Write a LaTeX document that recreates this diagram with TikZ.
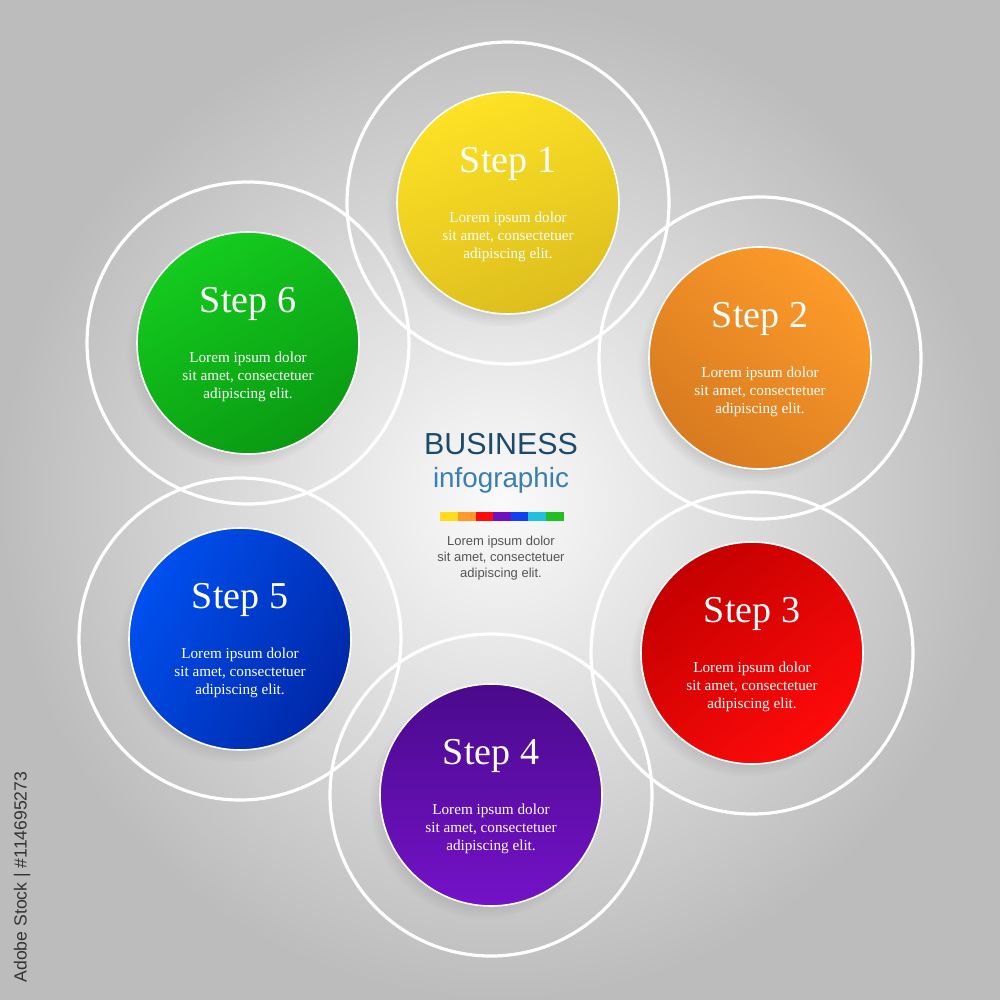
\documentclass[tikz,border=0pt]{standalone}
\usepackage{fontspec}
\setmainfont{Liberation Serif}
\newfontfamily\arialf{Liberation Sans}
\usetikzlibrary{shadows,fadings}
\definecolor{bgin}{HTML}{FAFAFA}
\definecolor{bgout}{HTML}{BCBCBC}
\definecolor{bizblue}{HTML}{1B4A6B}
\definecolor{infoblue}{HTML}{3A7FB0}
\definecolor{bodygray}{HTML}{555555}
\definecolor{yA}{HTML}{FDE225}\definecolor{yB}{HTML}{DDBE1E}
\definecolor{oA}{HTML}{FD9B2A}\definecolor{oB}{HTML}{D87A20}
\definecolor{rA}{HTML}{FF0A0A}\definecolor{rB}{HTML}{C40000}
\definecolor{pA}{HTML}{7412C8}\definecolor{pB}{HTML}{4A0A8C}
\definecolor{bA}{HTML}{0050F0}\definecolor{bB}{HTML}{0028A8}
\definecolor{gA}{HTML}{14CC1E}\definecolor{gB}{HTML}{0A9A12}
\definecolor{cbY}{HTML}{FFDD1A}\definecolor{cbO}{HTML}{FF9A2A}
\definecolor{cbR}{HTML}{FF0A0A}\definecolor{cbP}{HTML}{7010C0}
\definecolor{cbB}{HTML}{1040F0}\definecolor{cbC}{HTML}{20C0E0}
\definecolor{cbG}{HTML}{20C020}
\tikzset{
  ringc/.style={circle, draw=white, line width=1.6pt, minimum size=322pt*0.5, inner sep=0pt},
  disk/.style={circle, draw=white, line width=0.8pt, minimum size=222pt*0.5, inner sep=0pt,
    circular drop shadow={shadow xshift=-3pt, shadow yshift=-4pt, opacity=0.3, shadow scale=1.04}},
  steptitle/.style={text=white, font=\fontsize{19}{22}\selectfont, inner sep=0pt},
  stepbody/.style={text=white, font=\fontsize{7.6}{9}\selectfont, align=center, inner sep=0pt},
  cbar/.style={minimum width=8.8pt, minimum height=4.5pt, inner sep=0pt, anchor=west}
}
\begin{document}
\begin{tikzpicture}[x=0.5pt, y=-0.5pt]
\useasboundingbox (0,0) rectangle (1000,1000);
\shade[inner color=bgin, outer color=bgout] (0,0) rectangle (1000,1000);
% rings
\node[ringc] (r1) at (508,203) {};
\node[ringc] (r2) at (760,358) {};
\node[ringc] (r3) at (752,653) {};
\node[ringc] (r4) at (491,795) {};
\node[ringc] (r5) at (240,639) {};
\node[ringc] (r6) at (248,343) {};
% disks
\node[disk, top color=yA, bottom color=yB, shading angle=20] (s1) at (508,203) {};
\node[disk, top color=oA, bottom color=oB, shading angle=-40] (s2) at (760,358) {};
\node[disk, top color=rB, bottom color=rA, shading angle=40] (s3) at (752,653) {};
\node[disk, top color=pB, bottom color=pA, shading angle=0] (s4) at (491,795) {};
\node[disk, top color=bA, bottom color=bB, shading angle=60] (s5) at (240,639) {};
\node[disk, top color=gA, bottom color=gB, shading angle=30] (s6) at (248,343) {};
% texts
\foreach \n/\cx/\cy in {1/508/203, 2/760/358, 3/752/653, 4/491/795, 5/240/639, 6/248/343}{
  \node[steptitle] (t\n) at (\cx,\cy-39) {Step \n};
  \node[stepbody] (b\n) at (\cx,\cy+34) {Lorem ipsum dolor\\sit amet, consectetuer\\adipiscing elit.};
}
% center
\node[text=bizblue, font=\arialf\fontsize{15.2}{18}\selectfont, inner sep=0pt] (biz) at (501,444) {BUSINESS};
\node[text=infoblue, font=\arialf\fontsize{13.9}{17}\selectfont, inner sep=0pt] (info) at (501,480) {infographic};
\node[cbar, fill=cbY] (c1) at (440,516.5) {};
\node[cbar, fill=cbO] (c2) at (457.6,516.5) {};
\node[cbar, fill=cbR] (c3) at (475.2,516.5) {};
\node[cbar, fill=cbP] (c4) at (492.8,516.5) {};
\node[cbar, fill=cbB] (c5) at (510.4,516.5) {};
\node[cbar, fill=cbC] (c6) at (528,516.5) {};
\node[cbar, fill=cbG] (c7) at (545.6,516.5) {};
\node[text=bodygray, font=\arialf\fontsize{6.5}{8}\selectfont, align=center, inner sep=0pt] (cbody) at (501,558) {Lorem ipsum dolor\\sit amet, consectetuer\\adipiscing elit.};
\node[text=black!80, font=\arialf\fontsize{8.8}{10}\selectfont, rotate=90, inner sep=0pt] (wm) at (22,877) {Adobe Stock | \#114695273};
\end{tikzpicture}
\end{document}
